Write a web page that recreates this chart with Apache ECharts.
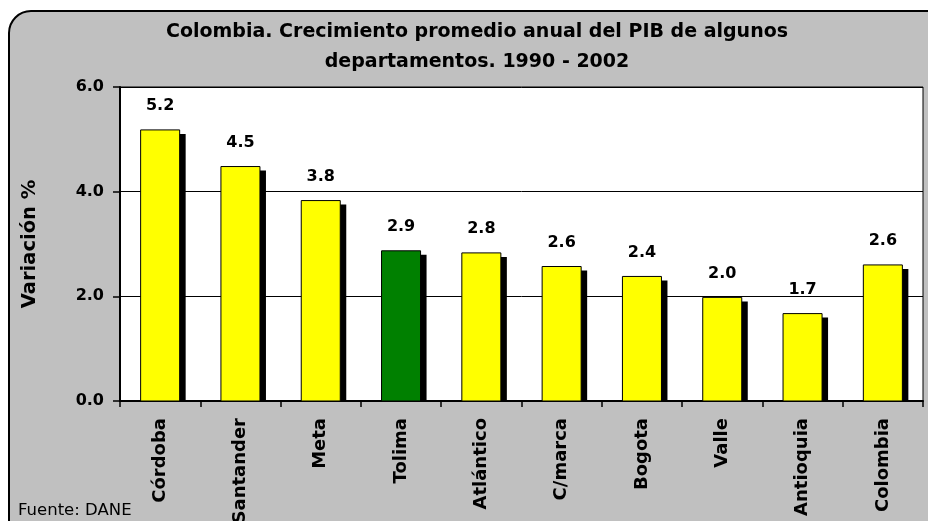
<!DOCTYPE html>
<html>
<head>
<meta charset="utf-8">
<script src="https://cdn.jsdelivr.net/npm/echarts@6/dist/echarts.min.js"></script>
<style>html,body{margin:0;padding:0;background:#fff;}#c{width:928px;height:521px;}</style>
</head>
<body>
<div id="c"></div>
<script>
var categories = ['Córdoba','Santander','Meta','Tolima','Atlántico','C/marca','Bogota','Valle','Antioquia','Colombia'];
var values = [5.18, 4.48, 3.83, 2.87, 2.83, 2.57, 2.38, 1.98, 1.67, 2.6];
var highlight = 'Tolima';
var yTicks = [0, 2, 4, 6];

var F = '"DejaVu Sans", Verdana, sans-serif';
var chart = echarts.init(document.getElementById('c'));

function renderBar(params, api) {
  var idx = api.value(0);
  var v = api.value(1);
  var top = api.coord([idx, v]);
  var base = api.coord([idx, 0]);
  var w = api.size([1, 0])[0] * 0.486;
  var x0 = top[0] - w / 2;
  var h = base[1] - top[1];
  var color = categories[idx] === highlight ? '#008000' : '#FFFF00';
  return {
    type: 'group',
    children: [
      {type: 'rect', shape: {x: x0 + 6, y: top[1] + 4, width: w, height: h - 4}, style: {fill: '#000'}},
      {type: 'rect', shape: {x: x0, y: top[1], width: w, height: h}, style: {fill: color, stroke: '#000', lineWidth: 1}},
      {type: 'text', style: {text: v.toFixed(1), x: top[0], y: top[1] - 16, align: 'center', verticalAlign: 'bottom',
        font: 'bold 16px ' + F, fill: '#000'}}
    ]
  };
}

chart.setOption({
  animation: false,
  backgroundColor: '#ffffff',
  graphic: [
    {type:'rect', z:-10, shape:{x:9, y:11, width:960, height:560, r:22}, style:{fill:'#C0C0C0', stroke:'#000', lineWidth:2}},
    {type:'text', left:18, top:502, style:{text:'Fuente: DANE', font:'16.5px ' + F, fill:'#000'}}
  ],
  title: {
    text: 'Colombia. Crecimiento promedio anual del PIB de algunos\ndepartamentos. 1990 - 2002',
    left: 472, textAlign: 'center', top: 12,
    textStyle: {fontFamily: F, fontWeight: 'bold', fontSize: 19, lineHeight: 30, color: '#000'}
  },
  grid: {left: 120, right: 5, top: 87, bottom: 120, outerBoundsMode: 'none', containLabel: false,
    show: true, backgroundColor: '#fff', borderColor: '#000', borderWidth: 1},
  xAxis: {
    type: 'category', data: categories,
    axisLine: {lineStyle: {color: '#000', width: 2}},
    axisTick: {show: true, length: 6, lineStyle: {color: '#000', width: 1.5}},
    axisLabel: {rotate: 90, margin: 17, fontFamily: F, fontWeight: 'bold', fontSize: 18, color: '#000'}
  },
  yAxis: {
    type: 'value', min: yTicks[0], max: yTicks[yTicks.length-1], interval: 2,
    name: 'Variación %', nameLocation: 'middle', nameGap: 80, nameRotate: 90,
    nameTextStyle: {fontFamily: F, fontWeight: 'bold', fontSize: 19.5, color: '#000'},
    axisLine: {show: true, lineStyle: {color: '#000', width: 2}},
    axisTick: {show: true, length: 7, lineStyle: {color: '#000', width: 1.5}},
    splitLine: {show: true, lineStyle: {color: '#000', width: 1}},
    axisLabel: {margin: 16, fontFamily: F, fontWeight: 'bold', fontSize: 16, color: '#000',
      formatter: function(v){return v.toFixed(1);}}
  },
  series: [{
    type: 'custom',
    renderItem: renderBar,
    encode: {x: 0, y: 1},
    data: values.map(function(v, i){ return [i, v]; })
  }]
});
</script>
</body>
</html>
